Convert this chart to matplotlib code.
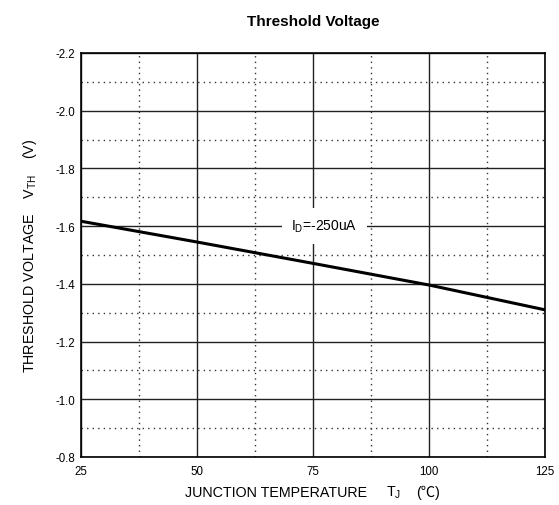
import matplotlib
matplotlib.use("Agg")
import matplotlib.pyplot as plt
import numpy as np

plt.rcParams['font.family'] = ['Liberation Sans', 'DejaVu Sans']

temps = [25, 50, 75, 100, 125]
vth = [-1.617, -1.545, -1.471, -1.396, -1.310]

x_ticks = [25, 50, 75, 100, 125]
y_ticks = [-2.2, -2.0, -1.8, -1.6, -1.4, -1.2, -1.0, -0.8]
y_tick_labels = ["-2.2", "-2.0", "-1.8", "-1.6", "-1.4", "-1.2", "-1.0", "-0.8"]

fig = plt.figure(figsize=(5.59, 5.06), dpi=100)
ax = fig.add_axes([81/559, 1 - 458/506, (545-81)/559, (458-54)/506])

ax.set_xlim(25, 125)
ax.set_ylim(-0.8, -2.2)

ax.set_xticks(x_ticks)
ax.set_yticks(y_ticks)
ax.set_yticklabels(y_tick_labels)
ax.set_xticks([37.5, 62.5, 87.5, 112.5], minor=True)
ax.set_yticks([-2.1, -1.9, -1.7, -1.5, -1.3, -1.1, -0.9], minor=True)
ax.grid(which='major', color='#222222', linestyle='-', linewidth=1.0)
ax.grid(which='minor', color='#333333', linestyle=(0, (1, 3)), linewidth=1.0)
ax.tick_params(which='both', length=0, labelsize=8.3, pad=4)
ax.tick_params(axis='x', pad=6)
for s in ax.spines.values():
    s.set_linewidth(1.2)
    s.set_color('black')

ax.plot(temps, vth, color='black', linewidth=2.2, zorder=5)

ax.text(77.5, -1.6, r"I$_{\mathregular{D}}$=-250uA", fontsize=10, ha='center', va='center',
        bbox=dict(facecolor='white', edgecolor='none', pad=7), zorder=4)

ax.set_title("Threshold Voltage", fontsize=11, fontweight='bold', pad=20)
ax.set_ylabel(r"THRESHOLD VOLTAGE    V$_{\mathregular{TH}}$    (V)", fontsize=10.3, labelpad=12)

ylab = 1 - 493/506
fig.text(185/559, ylab, "JUNCTION TEMPERATURE", ha='left', va='center', fontsize=10.3)
fig.text(386/559, ylab, r"T$_{\mathregular{J}}$", ha='left', va='center', fontsize=10.3)
fig.text(416/559, ylab, "(℃)", ha='left', va='center', fontsize=10.3,
         family=['Liberation Sans', 'Noto Sans CJK SC'])

fig.savefig("out.png", dpi=100)
